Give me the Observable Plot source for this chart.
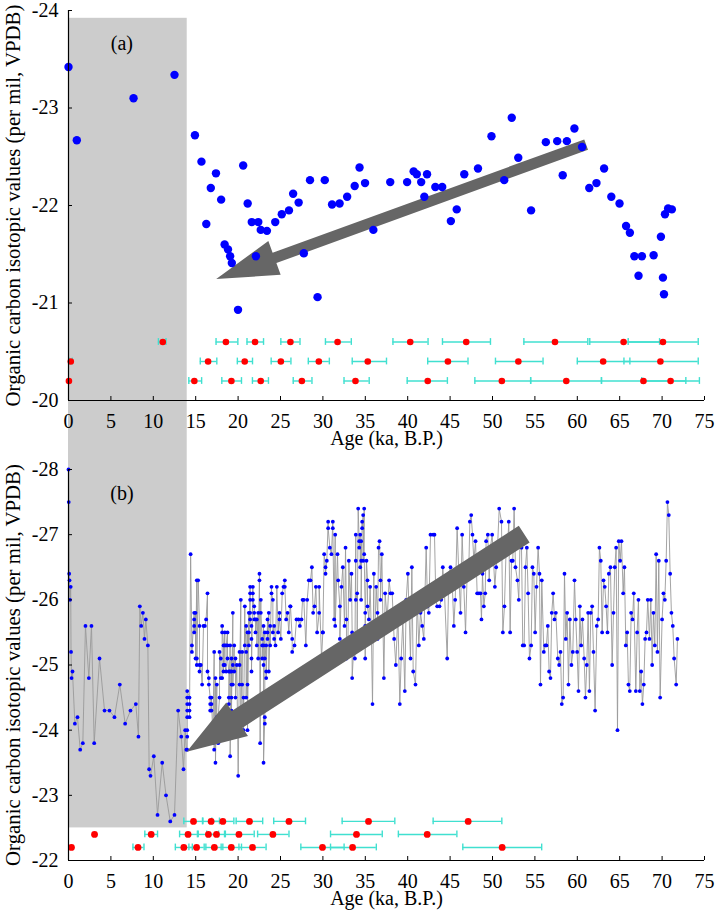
<!DOCTYPE html>
<html><head><meta charset="utf-8">
<script src="https://cdn.jsdelivr.net/npm/d3@7"></script>
<script src="https://cdn.jsdelivr.net/npm/@observablehq/plot@0.6"></script>
<style>
body{margin:0;background:#fff;}
#chart svg{display:block;font-family:"Liberation Serif","Times New Roman",serif !important;}
#chart svg text{font-family:"Liberation Serif","Times New Roman",serif !important;}
</style></head><body><div id="chart"></div>
<script>
// ---------- shared ----------
const xDomain = [0, 75];
const xTicks = [0,5,10,15,20,25,30,35,40,45,50,55,60,65,70,75];
const holoceneBand = [0, 14];
const yLabel = "Organic carbon isotopic values (per mil, VPDB)";
const xLabel = "Age (ka, B.P.)";

// ---------- panel (a) ----------
const aDomain = [-20, -24];
const aTicks = [-24,-23,-22,-21,-20];
const aAge = [0.0,0.98,7.67,12.5,14.91,15.68,16.25,16.78,17.39,18.0,18.41,18.81,19.06,19.26,19.99,20.6,21.13,21.61,22.1,22.38,22.67,23.4,24.38,25.15,26.0,26.49,27.14,27.75,28.48,29.37,30.22,31.08,31.97,32.86,33.75,34.32,34.97,35.95,37.94,39.93,40.7,41.07,41.59,41.96,42.28,43.26,44.07,45.09,45.78,46.67,48.29,49.88,51.38,52.27,53.04,54.55,56.29,57.63,58.28,58.77,59.66,60.56,61.41,62.26,63.16,64.01,64.98,65.75,66.2,66.73,67.22,67.62,69.0,69.86,70.1,70.22,70.34,70.71,71.15];
const aVal = [-23.42,-22.67,-23.10,-23.34,-22.72,-22.45,-21.81,-22.18,-22.33,-22.06,-21.60,-21.55,-21.48,-21.41,-20.93,-22.41,-22.02,-21.83,-21.48,-21.83,-21.75,-21.74,-21.83,-21.91,-21.95,-22.12,-22.03,-21.51,-22.26,-21.06,-22.26,-22.01,-22.02,-22.09,-22.20,-22.39,-22.23,-21.75,-22.24,-22.24,-22.35,-22.32,-22.24,-22.09,-22.32,-22.19,-22.19,-21.84,-21.96,-22.32,-22.38,-22.71,-22.26,-22.90,-22.49,-21.95,-22.65,-22.66,-22.31,-22.66,-22.79,-22.60,-22.18,-22.23,-22.38,-22.09,-22.02,-21.79,-21.72,-21.48,-21.28,-21.48,-21.49,-21.68,-21.26,-21.09,-21.91,-21.97,-21.96];
// age control points (a): three rows
const aCtrlRow = [-20.6,-20.6,-20.6,-20.6,-20.6,-20.6,-20.6,-20.6,-20.6,-20.6,
                  -20.4,-20.4,-20.4,-20.4,-20.4,-20.4,-20.4,-20.4,-20.4,-20.4,
                  -20.2,-20.2,-20.2,-20.2,-20.2,-20.2,-20.2,-20.2,-20.2,-20.2,-20.2];
const aCtrlAge = [11.12,18.56,22.0,26.17,31.73,40.3,46.9,57.37,65.46,70.1,
                  0.27,16.46,20.78,25.04,29.52,35.29,44.74,53.05,63.05,69.8,
                  0.05,14.84,19.21,22.67,27.52,33.84,42.36,51.1,58.7,67.8,71.0];
const aCtrlLo  = [10.6,17.4,21.05,25.04,30.3,38.26,44.1,53.7,61.47,66.0,
                  0.1,15.54,19.91,23.9,28.28,33.46,42.36,50.35,60.0,65.5,
                  null,14.19,18.08,21.69,26.5,32.49,39.94,47.92,54.5,62.85,67.6];
const aCtrlHi  = [11.5,19.97,23.0,27.3,33.35,42.4,49.76,61.24,69.7,74.26,
                  0.45,17.49,21.7,26.23,30.76,37.5,47.11,55.96,66.2,74.26,
                  null,15.7,20.4,23.58,28.71,35.46,44.68,54.5,62.85,72.8,74.4];
const aArrow = {fromAge: 61.1, fromVal: -22.62, toAge: 17.48, toVal: -21.24};
const aBand = [-23.92, -19.3];
const aTag = {text: "(a)", age: 6.3, val: -23.66};

// ---------- panel (b) ----------
const bDomain = [-22, -28];
const bTicks = [-28,-27,-26,-25,-24,-23,-22];
// 0 - 14 ka
const bAge1 = [0.0,0.03,0.08,0.12,0.18,0.26,0.3,0.36,0.47,0.75,1.06,1.38,1.69,2.0,2.4,2.71,3.03,3.66,4.25,4.83,5.42,6.05,6.68,7.31,7.94,8.25,8.41,8.57,8.77,8.96,9.12,9.36,9.51,9.67,10.06,10.5,11.05,11.5,12.0,12.5,12.93,13.3,13.56,13.76,13.9];
const bVal1 = [-28.0,-27.5,-26.4,-26.3,-26.0,-26.2,-25.2,-24.8,-24.9,-24.1,-24.2,-23.7,-23.8,-25.6,-24.8,-25.6,-23.8,-25.1,-24.3,-24.3,-24.2,-24.7,-24.1,-24.3,-24.4,-23.9,-25.9,-25.6,-25.8,-25.4,-25.7,-25.3,-23.4,-23.3,-23.6,-22.7,-23.5,-23.0,-22.6,-22.7,-24.3,-23.9,-23.4,-24.0,-23.7];
// 14 - 26 ka (age, values at that age)
const bCols2 = [
 [14.0,[-23.7,-23.9,-24.0,-24.2,-24.3,-24.4,-24.5,-24.6]],[14.27,[-24.5,-24.4,-24.3,-24.2]],[14.4,[-26.7]],[14.55,[-25.3,-25.2]],
 [14.82,[-25.8,-25.7,-25.6,-25.5]],[14.98,[-25.8,-25.1]],[15.13,[-26.3,-25.1,-25.0]],[15.29,[-26.3]],[15.45,[-25.6,-25.0,-24.9]],
 [15.6,[-25.0]],[15.76,[-24.7]],[15.92,[-25.6]],[16.08,[-25.6]],[16.23,[-25.7]],[16.39,[-26.1,-24.9]],[16.55,[-24.8,-24.7]],
 [16.71,[-24.5,-24.4,-24.3]],[16.86,[-24.3,-24.4,-24.5]],[17.02,[-23.9,-23.8]],[17.18,[-25.2,-23.9,-23.7]],[17.33,[-24.8,-23.5]],
 [17.49,[-24.7,-24.2,-24.1]],[17.65,[-23.8,-24.2]],[17.81,[-24.5,-25.2]],[17.96,[-25.1,-24.8]],[18.12,[-24.8,-25.5,-25.6]],
 [18.28,[-25.3,-25.0,-24.9]],[18.43,[-25.5,-25.3,-25.0]],[18.59,[-24.9,-25.3]],[18.75,[-25.5,-25.3,-25.1]],[18.91,[-24.9,-24.5,-24.4]],
 [19.06,[-25.3,-24.9,-23.6]],[19.22,[-25.1,-24.9,-24.7,-24.5,-24.3]],[19.38,[-25.8,-25.0,-24.7]],[19.54,[-25.3,-24.9]],
 [19.69,[-25.1,-24.5]],[19.85,[-25.0]],[20.01,[-23.3]],[20.17,[-25.2,-25.0,-24.7]],[20.32,[-26.0,-24.3]],[20.48,[-25.2,-24.7,-24.2]],
 [20.64,[-24.5,-24.1,-24.0]],[20.79,[-25.9,-25.3]],[20.95,[-25.6,-25.2,-24.5]],[21.11,[-25.5,-24.7,-24.0]],[21.27,[-25.8,-25.5,-25.3]],
 [21.42,[-26.2,-26.1,-26.0,-25.8,-25.7]],[21.58,[-25.6,-25.4,-25.1,-24.9]],[21.74,[-26.2,-26.1,-26.0]],[21.9,[-25.9,-25.8,-25.7]],
 [22.05,[-25.7,-25.5]],[22.21,[-25.7,-25.3]],[22.37,[-25.8,-25.1]],[22.52,[-26.4,-26.3]],[22.6,[-23.8]],[22.68,[-26.0,-25.8]],
 [22.84,[-25.4,-25.3,-25.1]],[23.0,[-25.6,-25.3,-25.0,-23.5]],[23.15,[-24.2,-24.1,-25.5,-25.1]],[23.31,[-25.3,-24.9,-24.8]],
 [23.47,[-25.7,-25.5,-25.4]],[23.62,[-25.8,-24.9]],[23.78,[-25.6,-25.3]],[23.94,[-26.2,-26.1]],[24.1,[-26.0,-25.5]],
 [24.25,[-25.6,-25.4]],[24.41,[-25.3]],[24.57,[-26.2]],[24.72,[-25.5]],[24.88,[-25.8,-25.7]],[25.04,[-25.4]],[25.2,[-26.1]],
 [25.35,[-26.2]],[25.51,[-26.3,-26.2]],[25.67,[-25.7]],[25.83,[-25.8]],[25.98,[-25.5]],[26.14,[-25.9]]
];
// 26 - 51 ka
const bCols3 = [
 [26.18,[-25.9]],[26.38,[-25.4,-25.2]],[26.65,[-25.3]],[26.89,[-25.7]],[27.12,[-25.7]],[27.28,[-25.6]],[27.48,[-25.7]],
 [27.6,[-26.0]],[27.75,[-26.0]],[27.99,[-25.3]],[28.15,[-26.0]],[28.34,[-26.3]],[28.54,[-26.3]],[28.7,[-26.5]],[28.85,[-25.8]],
 [29.01,[-25.9]],[29.17,[-26.2]],[29.32,[-25.5]],[29.56,[-25.8,-26.2]],[29.84,[-25.1]],[29.99,[-25.5,-25.5]],[30.15,[-26.7]],
 [30.31,[-26.5,-26.4]],[30.46,[-26.6]],[30.62,[-27.2,-27.1]],[30.82,[-26.8]],[31.01,[-26.7]],[31.17,[-27.2,-27.1]],[31.33,[-25.7]],
 [31.45,[-27.0,-25.6]],[31.72,[-26.7]],[31.8,[-26.3]],[32.0,[-25.9,-25.4]],[32.19,[-26.2]],[32.35,[-26.5]],[32.55,[-25.6]],
 [32.67,[-26.8]],[32.78,[-25.7,-25.1]],[32.94,[-25.2]],[33.06,[-26.6]],[33.22,[-26.0]],[33.37,[-26.4]],[33.45,[-25.5,-24.8]],
 [33.61,[-25.2]],[33.77,[-25.1]],[33.88,[-27.0,-26.6,-26.0]],[34.04,[-26.1,-25.4]],[34.16,[-27.4]],[34.28,[-26.9,-26.8]],
 [34.4,[-27.0,-26.5]],[34.51,[-26.9,-26.6,-26.0]],[34.63,[-27.2,-27.1]],[34.75,[-27.3,-26.6]],[34.87,[-27.4,-26.7]],
 [34.99,[-25.8,-25.1,-25.6]],[35.14,[-26.6]],[35.26,[-26.3,-25.9]],[35.42,[-25.7]],[35.57,[-26.2]],[35.73,[-25.4]],[35.85,[-24.4]],
 [36.01,[-26.4,-25.4]],[36.16,[-25.6]],[36.28,[-26.2]],[36.44,[-25.8,-25.4]],[36.56,[-26.8]],[36.68,[-26.9]],[36.79,[-26.3,-26.0]],
 [36.95,[-26.7]],[37.19,[-24.8]],[37.34,[-26.1]],[37.58,[-25.7]],[37.81,[-26.3]],[37.97,[-26.1]],[38.17,[-26.1]],[38.4,[-25.4]],
 [38.6,[-25.0]],[38.84,[-25.8]],[39.07,[-24.4]],[39.23,[-25.1]],[39.43,[-25.7]],[39.66,[-24.6]],[39.82,[-26.0]],[40.02,[-26.4]],
 [40.33,[-25.1]],[40.49,[-26.5]],[40.65,[-24.9]],[40.92,[-24.7]],[41.12,[-26.0]],[41.31,[-25.3]],[41.51,[-25.8]],[41.71,[-25.6]],
 [41.9,[-25.4]],[42.18,[-26.8]],[42.34,[-25.9]],[42.49,[-25.8]],[42.69,[-27.0]],[43.0,[-27.0]],[43.16,[-27.0]],[43.32,[-26.0]],
 [43.48,[-25.9]],[43.75,[-25.9]],[43.95,[-26.0]],[44.14,[-26.5]],[44.34,[-26.1]],[44.66,[-25.1]],[44.85,[-26.4]],[45.05,[-26.5]],
 [45.24,[-26.3]],[45.44,[-25.6]],[45.6,[-26.0]],[45.83,[-27.1]],[46.03,[-26.4]],[46.23,[-25.8]],[46.42,[-27.0]],[46.62,[-26.2]],
 [46.82,[-25.5]],[47.01,[-26.4]],[47.21,[-26.5]],[47.33,[-27.2]],[47.49,[-27.3]],[47.64,[-27.0]],[47.8,[-26.6]],[48.0,[-26.9]],
 [48.19,[-26.1]],[48.39,[-26.1]],[48.59,[-26.1]],[48.7,[-25.7]],[48.82,[-26.4]],[48.98,[-25.9]],[49.14,[-26.1]],[49.25,[-26.9]],
 [49.45,[-27.0]],[49.61,[-26.3]],[49.76,[-26.8]],[49.96,[-27.0]],[50.12,[-26.6]],[50.28,[-26.2]],[50.43,[-26.5]],[50.59,[-26.8]],
 [50.79,[-27.4]]
];
// 51 - 72 ka
const bAge4 = [51.06,51.22,51.41,51.61,51.77,51.92,52.08,52.24,52.39,52.55,52.71,52.94,53.1,53.26,53.42,53.57,53.73,53.89,54.05,54.2,54.36,54.56,54.71,54.87,55.03,55.19,55.38,55.54,55.66,55.81,56.05,56.21,56.36,56.52,56.68,56.84,56.99,57.15,57.31,57.47,57.7,57.86,58.02,58.17,58.33,58.49,58.64,58.8,58.96,59.12,59.31,59.47,59.67,59.82,59.98,60.14,60.3,60.45,60.61,60.81,60.96,61.12,61.28,61.43,61.59,61.75,61.91,62.1,62.3,62.46,62.61,62.77,62.93,63.09,63.24,63.4,63.56,63.72,63.91,64.11,64.27,64.42,64.58,64.74,64.89,65.05,65.21,65.41,65.56,65.72,65.88,66.03,66.19,66.35,66.51,66.66,66.9,67.06,67.21,67.37,67.53,67.68,67.84,68.0,68.16,68.31,68.51,68.67,68.83,68.98,69.14,69.3,69.45,69.61,69.77,70.0,70.16,70.32,70.48,70.63,70.79,70.95,71.1,71.26,71.42,71.66,71.81];
const bVal4 = [-27.2,-25.5,-25.9,-26.8,-26.8,-27.2,-25.5,-26.6,-26.6,-27.4,-26.5,-26.3,-26.0,-27.0,-26.8,-25.3,-25.3,-26.5,-26.8,-26.1,-25.1,-25.3,-26.5,-26.4,-25.5,-26.2,-26.8,-26.4,-24.7,-26.3,-25.2,-25.3,-25.3,-25.6,-24.9,-24.8,-25.8,-26.1,-25.7,-25.8,-25.1,-25.0,-25.2,-24.4,-24.5,-26.4,-25.4,-25.8,-24.7,-25.7,-25.0,-25.2,-26.3,-25.7,-25.2,-24.6,-25.9,-25.3,-25.7,-25.1,-24.5,-25.0,-25.8,-24.6,-25.8,-25.9,-25.2,-24.3,-25.6,-25.7,-26.8,-26.6,-25.5,-26.3,-26.2,-25.9,-25.5,-26.4,-26.5,-25.0,-25.8,-26.5,-26.8,-24.0,-26.9,-26.6,-26.9,-26.1,-26.5,-25.3,-25.5,-24.7,-24.6,-25.8,-25.7,-26.1,-24.6,-25.5,-26.0,-24.6,-24.9,-24.4,-24.7,-25.4,-25.5,-26.0,-25.4,-26.0,-25.0,-25.8,-25.3,-26.7,-25.2,-26.6,-24.5,-25.7,-26.1,-26.0,-26.6,-27.5,-27.3,-26.4,-25.8,-25.6,-25.1,-24.7,-25.4];
// age control points (b)
const bCtrlRow = [-22.6,-22.6,-22.6,-22.6,-22.6,-22.6,-22.6,
                  -22.4,-22.4,-22.4,-22.4,-22.4,-22.4,-22.4,-22.4,-22.4,
                  -22.2,-22.2,-22.2,-22.2,-22.2,-22.2,-22.2,-22.2,-22.2,-22.2];
const bCtrlAge = [14.74,16.82,18.2,21.34,26.0,35.38,47.13,
                  3.07,9.75,14.1,16.5,17.45,20.1,24.1,33.96,42.3,
                  0.35,8.2,13.6,15.1,17.2,19.2,21.7,29.95,33.5,51.14];
const bCtrlLo  = [13.6,15.8,16.9,19.77,24.2,32.27,43.0,
                  null,9.0,13.1,15.3,16.3,18.4,22.3,30.9,38.9,
                  null,7.6,12.6,14.2,16.2,18.0,20.1,27.4,30.9,46.5];
const bCtrlHi  = [15.85,17.8,19.5,22.9,27.95,38.48,51.1,
                  null,10.5,15.2,17.7,18.5,21.9,26.0,37.0,45.8,
                  null,8.9,14.6,16.0,18.2,20.4,23.3,32.5,36.3,55.8];
const bArrow = {fromAge: 53.8, fromVal: -27.0, toAge: 14.0, toVal: -23.66};
const bBand = [-28.3, -22.5];
const bTag = {text: "(b)", age: 6.3, val: -27.63};

// ---------- build ----------
const FONT = "Liberation Serif";
const COL = {blue: "#0000ff", red: "#ff0000", cyan: "#40e0d0", gray: "#cccccc", arrow: "#666666", line: "#9a9a9a"};

function ctrlTable(rows, ages, lo, hi) {
  return ages.map((a, i) => ({age: a, row: rows[i], lo: lo[i], hi: hi[i]}));
}
function blockArrow(a, shaftW, headL, headW) {
  return (index, scales) => {
    const X = scales.x, Y = scales.y;
    const x0 = X(a.fromAge), y0 = Y(a.fromVal), x1 = X(a.toAge), y1 = Y(a.toVal);
    const dx = x1 - x0, dy = y1 - y0, L = Math.hypot(dx, dy);
    const ux = dx / L, uy = dy / L, nx = -uy, ny = ux;
    const bx = x1 - ux * headL, by = y1 - uy * headL;
    const p = [
      [x0 + nx * shaftW / 2, y0 + ny * shaftW / 2],
      [bx + nx * shaftW / 2, by + ny * shaftW / 2],
      [bx + nx * headW / 2, by + ny * headW / 2],
      [x1, y1],
      [bx - nx * headW / 2, by - ny * headW / 2],
      [bx - nx * shaftW / 2, by - ny * shaftW / 2],
      [x0 - nx * shaftW / 2, y0 - ny * shaftW / 2]
    ];
    return d3.create("svg:path")
      .attr("d", "M" + p.map(q => q[0].toFixed(2) + "," + q[1].toFixed(2)).join("L") + "Z")
      .attr("fill", COL.arrow).node();
  };
}

function panel(cfg) {
  const ctrl = cfg.ctrl;
  const bars = ctrl.filter(d => d.lo != null && d.hi != null && d.hi > d.lo);
  const caps = bars.flatMap(d => [{age: d.lo, row: d.row}, {age: d.hi, row: d.row}]);
  const yMin = cfg.domain[0];
  const yMax = cfg.domain[1];
  const marks = [
    Plot.rect([cfg.band], {x1: () => holoceneBand[0], x2: () => holoceneBand[1], y1: d => d[0], y2: d => d[1], fill: COL.gray}),
    ...cfg.dataMarks,
    Plot.ruleY(bars, {y: "row", x1: "lo", x2: "hi", stroke: COL.cyan, strokeWidth: 1.4}),
    Plot.ruleX(caps, {x: "age", y1: "row", y2: "row", insetTop: -3.4, insetBottom: -3.4, stroke: COL.cyan, strokeWidth: 1.4}),
    Plot.dot(ctrl, {x: "age", y: "row", r: cfg.ctrlR, fill: COL.red, stroke: "none"}),
    ...cfg.topMarks,
    // axis lines
    Plot.ruleY([yMin], {x1: () => xDomain[0], x2: () => xDomain[1], stroke: "#000", strokeWidth: 1.2}),
    Plot.ruleX([xDomain[0]], {y1: () => yMin, y2: () => yMax, stroke: "#000", strokeWidth: 1.2}),
    // inward ticks
    Plot.ruleX(xTicks, {x: d => d, y1: () => yMin, y2: () => yMin, insetTop: -4, stroke: "#000"}),
    Plot.ruleY(cfg.ticks, {y: d => d, x1: () => xDomain[0], x2: () => xDomain[0], insetRight: -4, stroke: "#000"}),
    Plot.axisX(xTicks, {tickSize: 0, tickPadding: 13, tickFormat: d => String(d), label: null, fontSize: 20, fontFamily: FONT, fill: "#000"}),
    Plot.axisY(cfg.ticks, {tickSize: 0, tickPadding: 10, tickFormat: d => String(d), label: null, fontSize: 20, fontFamily: FONT, fill: "#000"}),
    Plot.text([xLabel], {text: d => d, frameAnchor: "bottom", dy: 44, fontSize: 20, fontFamily: FONT, fill: "#000"}),
    Plot.text([yLabel], {text: d => d, frameAnchor: "left", textAnchor: "middle", rotate: -90, dx: -55, fontSize: 20.8, fontFamily: FONT, fill: "#000"}),
    Plot.text([cfg.tag], {x: "age", y: "val", text: "text", fontSize: 20, fontFamily: FONT, fill: "#000"})
  ];
  return Plot.plot({
    width: 718, height: cfg.height,
    marginLeft: 68, marginRight: 14, marginTop: cfg.mt, marginBottom: cfg.mb,
    x: {domain: xDomain},
    y: {domain: cfg.domain},
    style: {fontFamily: FONT, background: "transparent", overflow: "hidden"},
    marks
  });
}

// panel a
const aPts = aAge.map((a, i) => ({age: a, val: aVal[i]}));
const figA = panel({
  height: 455, mt: 10, mb: 55, domain: aDomain, ticks: aTicks, band: aBand, tag: aTag, ctrlR: 3.3,
  ctrl: ctrlTable(aCtrlRow, aCtrlAge, aCtrlLo, aCtrlHi),
  dataMarks: [
    blockArrow(aArrow, 11, 62, 36),
    Plot.dot(aPts, {x: "age", y: "val", r: 4.2, fill: COL.blue, stroke: "none"})
  ],
  topMarks: []
});

// panel b
const bPts = [
  ...bAge1.map((a, i) => ({age: a, val: bVal1[i]})),
  ...bCols2.flatMap(([a, vs]) => vs.map(v => ({age: a, val: v}))),
  ...bCols3.flatMap(([a, vs]) => vs.map(v => ({age: a, val: v}))),
  ...bAge4.map((a, i) => ({age: a, val: bVal4[i]}))
];
const figB = panel({
  height: 464, mt: 14, mb: 59, domain: bDomain, ticks: bTicks, band: bBand, tag: bTag, ctrlR: 3.4,
  ctrl: ctrlTable(bCtrlRow, bCtrlAge, bCtrlLo, bCtrlHi),
  dataMarks: [
    Plot.line(bPts, {x: "age", y: "val", stroke: COL.line, strokeWidth: 0.9}),
    Plot.dot(bPts, {x: "age", y: "val", r: 1.9, fill: COL.blue, stroke: "none"})
  ],
  topMarks: [blockArrow(bArrow, 20, 60, 40)]
});

const root = document.getElementById("chart");
root.appendChild(figA);
root.appendChild(figB);
</script></body></html>
